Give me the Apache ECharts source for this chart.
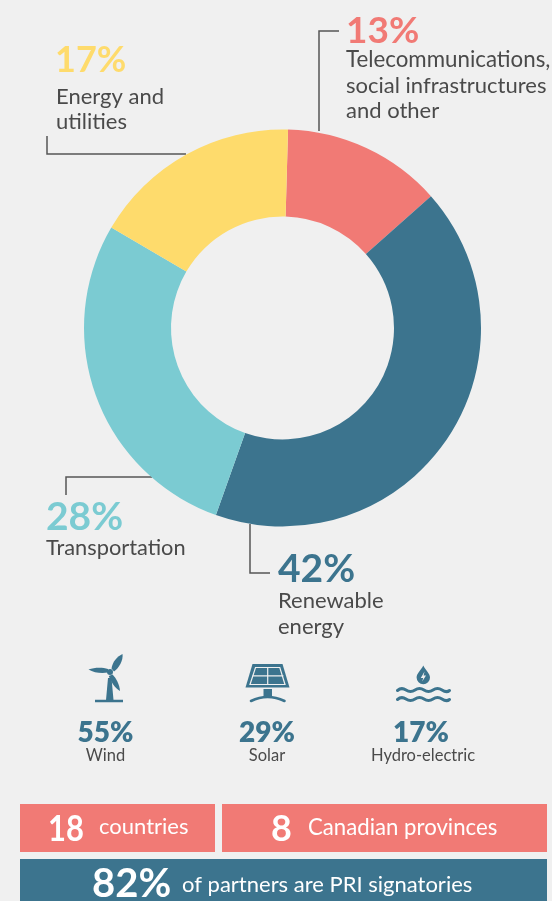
<!DOCTYPE html>
<html><head><meta charset="utf-8">
<style>html,body{margin:0;padding:0;background:#f0f0f0}#c{width:552px;height:901px}</style>
<script src="https://cdn.jsdelivr.net/npm/echarts@6/dist/echarts.min.js"></script>
</head><body><div id="c"></div>
<script>
var sectors = ['Telecommunications, social infrastructures and other','Renewable energy','Transportation','Energy and utilities'];
var shares = [13, 42, 28, 17];
var sectorColors = ['#F17A75','#3C748E','#7BCBD2','#FEDB6C'];
var subLabels = ['Wind','Solar','Hydro-electric'];
var subShares = [55, 29, 17];

var INK='#4A4A4A', DARK='#3C748E', RED='#F17A75', BG='#F0F0F0', FONT='Lato, "Open Sans", sans-serif';
function T(x,y,text,size,weight,fill,align){
  return {type:'text',silent:true,style:{x:x,y:y,text:text,fontFamily:FONT,fontSize:size,fontWeight:weight,fill:fill,align:align||'left',verticalAlign:'middle'}};
}
function L(points){
  return {type:'polyline',silent:true,shape:{points:points},style:{stroke:'#555',lineWidth:1.5,fill:null}};
}
function R(x,y,w,h,c){return {type:'rect',silent:true,shape:{x:x,y:y,width:w,height:h},style:{fill:c}};}
var iconCount=0;
function shape(d,style){
  var name='icon'+(iconCount++);
  echarts.graphic.registerShape(name,echarts.graphic.extendPath(d));
  return {type:name,silent:true,style:style};
}
function PP(d,fill){return shape(d,{fill:fill});}
function PS(d,stroke,w){return shape(d,{fill:null,stroke:stroke,lineWidth:w,lineCap:'round'});}

var eighteen=T(48,829,'18',36,700,'#fff');
eighteen.scaleX=0.86; eighteen.originX=48;

var g=[
 L([[319,131],[319,31],[339,31]]),
 L([[47,136],[47,154],[186,154]]),
 L([[66,495],[66,477],[152,477]]),
 L([[250,524],[250,573],[270,573]]),

 T(346,31,shares[0]+'%',37,700,sectorColors[0]),
 T(346,60,'Telecommunications,',22.3,400,INK),
 T(346,86,'social infrastructures',22,400,INK),
 T(346,111,'and other',22,400,INK),

 T(55,60,shares[3]+'%',36,700,sectorColors[3]),
 T(56,97,'Energy and',22,400,INK),
 T(56,122,'utilities',22,400,INK),

 T(46,517,shares[2]+'%',39,700,sectorColors[2]),
 T(46,548,'Transportation',21.8,400,INK),

 T(278,569,shares[1]+'%',39,700,sectorColors[1]),
 T(278,601,'Renewable',22,400,INK),
 T(278,627,'energy',22,400,INK),

 T(105.5,733,subShares[0]+'%',28,800,DARK,'center'),
 T(105.5,756,subLabels[0],16.5,400,INK,'center'),
 T(267,733,subShares[1]+'%',28,800,DARK,'center'),
 T(267,756,subLabels[1],16.5,400,INK,'center'),
 T(421,733,subShares[2]+'%',28,800,DARK,'center'),
 T(423,756,subLabels[2],16.5,400,INK,'center'),

 R(20,804,195,48,RED), R(222,804,325,48,RED), R(20,859,527,42,DARK),
 eighteen,
 T(99,827,'countries',22,400,'#fff'),
 T(271,829,'8',36,700,'#fff'),
 T(308,828,'Canadian provinces',22.2,400,'#fff'),
 T(92,884,'82%',40,700,'#fff'),
 T(182,885,'of partners are PRI signatories',22,400,'#fff'),

 // wind turbine
 PP('M95 699.8 H123 V702.2 H95 Z M106 700 L108 678 H111.5 L113.5 700 Z',DARK),
 PP('M111.5 668.5 C112.5 662 116.5 657 122.5 654 C123.5 660 119 668 114 671.5 Z',DARK),
 PP('M108 672.5 C102 673.5 94 673 88.5 669.5 C95 667.2 103 667.5 108 669 Z',DARK),
 PP('M112.5 674.5 C116 678 119.5 684 120 691 C115 688.5 110.5 681 108.8 676 Z',DARK),
 {type:'circle',silent:true,shape:{cx:110,cy:672,r:3},style:{fill:DARK}},

 // solar panel
 PP('M252.5 664 H282.5 L289.5 687.5 H245.5 Z',DARK),
 PS('M255.5 667.5 H279.8 L285 684.5 H250 Z M267.7 667.5 V684.5 M252.5 675.8 H283','#F0F0F0',1.2),
 PP('M263.5 689 H272 V697 H263.5 Z',DARK),
 PS('M251 701 Q267.5 693 284.5 701',DARK,2.6),

 // hydro
 PP('M423.3 665.5 C425.5 670 430 673.5 430 677.5 A6.7 6.7 0 0 1 416.6 677.5 C416.6 673.5 421 670 423.3 665.5 Z',DARK),
 PP('M424.5 671.5 L420.8 678 H423.2 L422.2 681.5 L426 675.5 H423.6 Z',BG),
 PS('M397.5 690.5 Q401.5 687 406 690 T415 690 T424 690 T433 690 T442 690 T449.5 690.5',DARK,3),
 PS('M397.5 699.5 Q401.5 696 406 699 T415 699 T424 699 T433 699 T442 699 T449.5 699.5',DARK,3)
];

var chart=echarts.init(document.getElementById('c'),null,{renderer:'canvas'});
chart.setOption({
 animation:false,
 backgroundColor:BG,
 series:[{
  type:'pie',
  center:[282.5,328],
  radius:[111.5,198.5],
  startAngle:88.4,
  clockwise:true,
  label:{show:false},labelLine:{show:false},
  silent:true,
  itemStyle:{borderWidth:0},
  data:sectors.map(function(n,i){return {name:n,value:shares[i],itemStyle:{color:sectorColors[i]}};})
 }],
 graphic:{elements:g}
});
</script></body></html>
